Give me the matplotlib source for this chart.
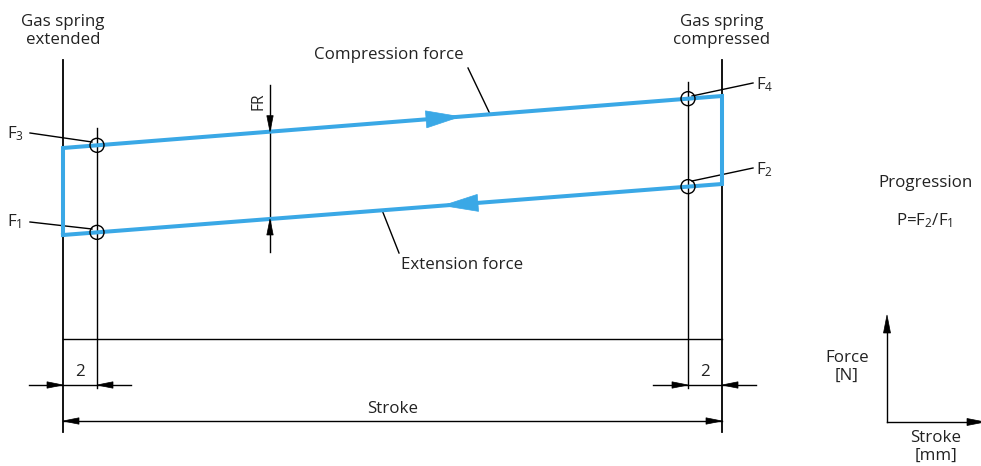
import numpy as np
import matplotlib
matplotlib.use("Agg")
import matplotlib.pyplot as plt
from matplotlib.patches import Polygon, Circle

plt.rcParams['font.family'] = ['Open Sans', 'DejaVu Sans']
plt.rcParams['mathtext.default'] = 'regular'

# diagram geometry (canvas units, y grows downwards)
stroke_x = [63, 722]          # gas spring extended / compressed
offset = 34                   # the "2" measuring offset
compression_y = [148, 96]     # compression force line at both stroke ends
extension_y = [235, 184]      # extension force line at both stroke ends
blue = '#3aa8e6'
ink = '#222222'
fs = 12.2

fig = plt.figure(figsize=(9.81, 4.66), dpi=100)
ax = fig.add_axes([0, 0, 1, 1])
ax.set_xlim(0, 981)
ax.set_ylim(466, 0)
ax.axis('off')


def head(tip, direction, length=16, half=3.2, color='black'):
    # filled triangular arrowhead, tip at `tip`, pointing along `direction`
    d = np.array(direction, float)
    d /= np.hypot(*d)
    n = np.array([-d[1], d[0]])
    tip = np.array(tip, float)
    base = tip - d * length
    ax.add_patch(Polygon([tip, base + n * half, base - n * half], closed=True,
                         facecolor=color, edgecolor=color, lw=0.5, zorder=5))


def line_y(xs, ys, x):
    return np.interp(x, xs, ys)


x0, x1 = stroke_x
xi0, xi1 = x0 + offset, x1 - offset

# vertical reference lines
ax.plot([x0, x0], [60, 432], color='black', lw=1.3)
ax.plot([x1, x1], [60, 432], color='black', lw=1.3)
ax.plot([xi0, xi0], [128, 388], color='black', lw=1.0)
ax.plot([xi1, xi1], [82, 388], color='black', lw=1.0)
ax.plot([x0, x1], [339, 339], color='black', lw=1.0)

# force loop
loop_x = [x0, x0, x1, x1, x0]
loop_y = [extension_y[0], compression_y[0], compression_y[1], extension_y[1], extension_y[0]]
ax.plot(loop_x, loop_y, color=blue, lw=2.9, solid_joinstyle='miter', zorder=3)

# direction arrows on the loop
dc = (x1 - x0, compression_y[1] - compression_y[0])
de = (x0 - x1, extension_y[0] - extension_y[1])
head((460, line_y(stroke_x, compression_y, 460)), dc, length=34, half=8.5, color=blue)
head((443, line_y(stroke_x, extension_y, 443)), de, length=35, half=8.5, color=blue)

# measuring points
for x, ys in [(xi0, compression_y), (xi0, extension_y), (xi1, compression_y), (xi1, extension_y)]:
    ax.add_patch(Circle((x, line_y(stroke_x, ys, x)), 7, fill=False, edgecolor='black', lw=1.0, zorder=4))

# F labels with leader lines
ax.plot([30, 92], [133, 142], color='black', lw=1.0)
ax.plot([30, 92], [222, 229], color='black', lw=1.0)
ax.plot([692, 753], [96, 83], color='black', lw=1.0)
ax.plot([692, 753], [181, 168], color='black', lw=1.0)
ax.text(7, 134, 'F$_3$', fontsize=fs, va='center', ha='left', color=ink)
ax.text(7, 222, 'F$_1$', fontsize=fs, va='center', ha='left', color=ink)
ax.text(756, 85, 'F$_4$', fontsize=fs, va='center', ha='left', color=ink)
ax.text(756, 170, 'F$_2$', fontsize=fs, va='center', ha='left', color=ink)

# FR dimension
ax.plot([270, 270], [85, 252], color='black', lw=1.0)
head((270, line_y(stroke_x, compression_y, 270)), (0, 1))
head((270, line_y(stroke_x, extension_y, 270)), (0, -1))
ax.text(258, 101, 'FR', fontsize=fs - 1, rotation=90, ha='center', va='center', color=ink)

# curve names
ax.text(389, 55, 'Compression force', fontsize=fs, ha='center', va='center', color=ink)
ax.plot([468, 490], [68, 114], color='black', lw=1.0)
ax.text(462, 265, 'Extension force', fontsize=fs, ha='center', va='center', color=ink)
ax.plot([382, 399], [210, 253], color='black', lw=1.0)

# headers
ax.text(x0, 31, 'Gas spring\nextended', fontsize=fs, ha='center', va='center', linespacing=1.2, color=ink)
ax.text(x1, 31, 'Gas spring\ncompressed', fontsize=fs, ha='center', va='center', linespacing=1.2, color=ink)

# "2" dimensions
ax.plot([29, 131], [385, 385], color='black', lw=1.0)
head((x0, 385), (1, 0))
head((xi0, 385), (-1, 0))
ax.text((x0 + xi0) / 2, 372, '2', fontsize=fs, ha='center', va='center', color=ink)
ax.plot([653, 756], [385, 385], color='black', lw=1.0)
head((xi1, 385), (1, 0))
head((x1, 385), (-1, 0))
ax.text((x1 + xi1) / 2, 372, '2', fontsize=fs, ha='center', va='center', color=ink)

# stroke dimension
ax.plot([x0, x1], [421, 421], color='black', lw=1.0)
head((x0, 421), (-1, 0))
head((x1, 421), (1, 0))
ax.text((x0 + x1) / 2, 409, 'Stroke', fontsize=fs, ha='center', va='center', color=ink)

# progression note
ax.text(925, 183, 'Progression', fontsize=fs, ha='center', va='center', color=ink)
ax.text(925, 221, 'P=F$_2$/F$_1$', fontsize=fs, ha='center', va='center', color=ink)

# axis icon
ax.plot([887, 887], [422, 325], color='black', lw=1.0)
ax.plot([887, 975], [422, 422], color='black', lw=1.0)
head((887, 315), (0, -1), length=18, half=3.5)
head((985, 422), (1, 0), length=18, half=3.5)
ax.text(847, 367, 'Force\n[N]', fontsize=fs, ha='center', va='center', linespacing=1.2, color=ink)
ax.text(936, 447, 'Stroke\n[mm]', fontsize=fs, ha='center', va='center', linespacing=1.2, color=ink)

fig.savefig('out.png', dpi=100)
